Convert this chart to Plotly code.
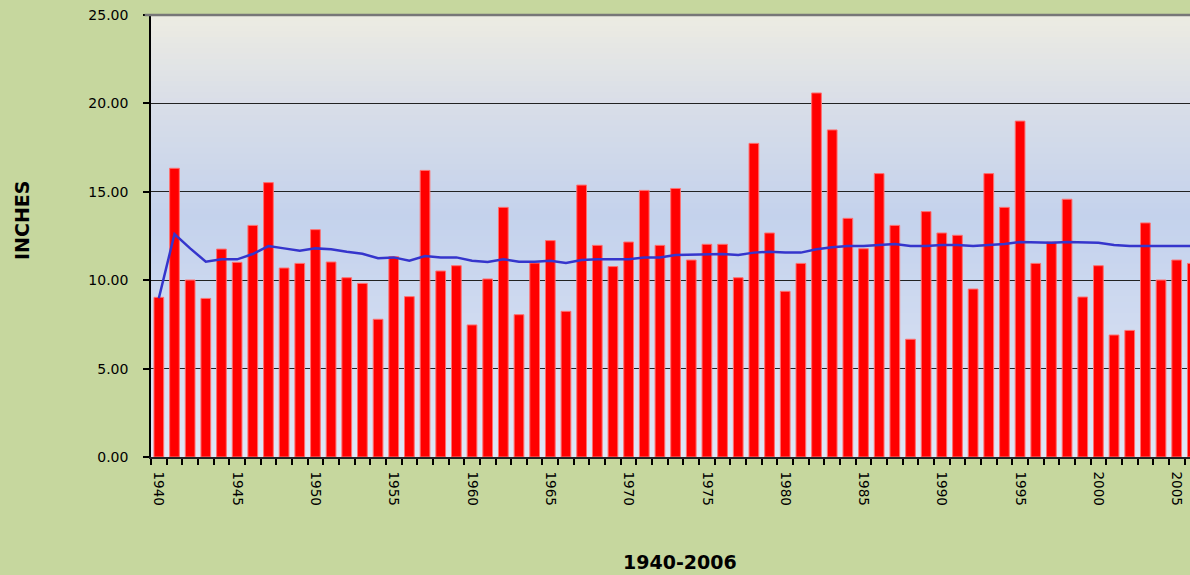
import plotly.graph_objects as go

years = list(range(1940, 2007))
rainfall = [9.03, 16.33, 10.01, 8.97, 11.76, 11.01, 13.10, 15.52, 10.69, 10.95,
            12.86, 11.03, 10.14, 9.82, 7.79, 11.33, 9.07, 16.21, 10.52, 10.82,
            7.47, 10.07, 14.12, 8.05, 10.97, 12.24, 8.24, 15.38, 11.97, 10.77,
            12.16, 15.08, 11.97, 15.19, 11.14, 12.03, 12.03, 10.14, 17.74, 12.67,
            9.37, 10.95, 20.59, 18.50, 13.50, 11.78, 16.03, 13.10, 6.66, 13.88,
            12.67, 12.54, 9.50, 16.03, 14.12, 19.00, 10.95, 12.16, 14.58, 9.05,
            10.82, 6.90, 7.16, 13.24, 10.01, 11.14, 10.95]
average = [8.98, 12.61, 11.80, 11.05, 11.18, 11.18, 11.48, 11.93, 11.80, 11.67,
           11.80, 11.75, 11.61, 11.50, 11.24, 11.29, 11.10, 11.37, 11.29, 11.29,
           11.10, 11.03, 11.18, 11.05, 11.05, 11.10, 10.97, 11.14, 11.18, 11.18,
           11.18, 11.29, 11.29, 11.43, 11.46, 11.46, 11.48, 11.43, 11.56, 11.61,
           11.56, 11.56, 11.75, 11.86, 11.93, 11.93, 11.99, 12.05, 11.93, 11.93,
           11.99, 11.99, 11.93, 11.99, 12.05, 12.16, 12.12, 12.12, 12.16, 12.12,
           12.12, 11.99, 11.93, 11.93, 11.93, 11.93, 11.93]
label_years = list(range(1940, 2006, 5))
y_ticks = [0, 5, 10, 15, 20, 25]

FONT = "DejaVu Sans, Verdana, sans-serif"

fig = go.Figure()
fig.add_trace(go.Bar(x=years, y=rainfall, marker=dict(color="#FF0000",
                     line=dict(color="#FF7070", width=1)), width=0.62,
                     showlegend=False))
fig.add_trace(go.Scatter(x=years, y=average, mode="lines",
                         line=dict(color="#3535CC", width=2.5), showlegend=False))

# vertical gradient background
def hex2rgb(h):
    h = h.lstrip("#")
    return [int(h[i:i + 2], 16) for i in (0, 2, 4)]

stops = [(0.0, "#DFE6F5"), (0.45, "#C8D5EE"), (0.55, "#C4D2EC"), (0.8, "#D9DEE8"), (1.0, "#EDECE2")]
n = 80
shapes = []
for i in range(n):
    t = (i + 0.5) / n
    for j in range(len(stops) - 1):
        if stops[j][0] <= t <= stops[j + 1][0]:
            a, ca = stops[j]
            b, cb = stops[j + 1]
            f = (t - a) / (b - a)
            c1, c2 = hex2rgb(ca), hex2rgb(cb)
            col = "rgb(%d,%d,%d)" % tuple(round(c1[k] + (c2[k] - c1[k]) * f) for k in range(3))
            break
    shapes.append(dict(type="rect", xref="paper", yref="paper", x0=0, x1=1,
                       y0=i / n, y1=(i + 1) / n + 0.002, fillcolor=col,
                       line=dict(width=0), layer="below"))
shapes.append(dict(type="line", xref="paper", yref="paper", x0=-0.006, x1=1, y0=1, y1=1,
                   line=dict(color="#777777", width=2.5)))

fig.update_layout(
    width=1190, height=575,
    margin=dict(l=151, r=0, t=15, b=118, autoexpand=False),
    paper_bgcolor="#C6D79E",
    plot_bgcolor="rgba(0,0,0,0)",
    shapes=shapes,
    bargap=0.38,
    font=dict(family=FONT, color="#000000"),
    xaxis=dict(range=[1939.5, 2005.85], tickmode="array", tickvals=label_years,
               ticktext=[str(y) for y in label_years], tickangle=90,
               ticks="", tickfont=dict(size=13.5), showgrid=False,
               ticklabelstandoff=10,
               showline=True, linecolor="#222222", linewidth=1.5,
               minor=dict(tick0=1939.5, dtick=1, ticks="outside", ticklen=6,
                          tickcolor="#000000", tickwidth=1.5, showgrid=False),
               zeroline=False),
    yaxis=dict(range=[0, 25], tickmode="array", tickvals=y_ticks,
               ticktext=["%.2f" % v for v in y_ticks], tickfont=dict(size=14),
               ticks="outside", ticklen=6, tickcolor="#000000", tickwidth=1.5,
               ticklabelstandoff=12,
               showgrid=True, gridcolor="#222222", gridwidth=1.2,
               showline=True, linecolor="#000000", linewidth=1.5,
               zeroline=False),
    annotations=[
        dict(text="<b>1940-2006</b>", xref="paper", yref="paper",
             x=(680 - 151) / 1039, y=(457 - 562) / 442, xanchor="center", yanchor="middle",
             showarrow=False, font=dict(size=19, family=FONT)),
        dict(text="<b>INCHES</b>", xref="paper", yref="paper", textangle=-90,
             x=(22 - 151) / 1039, y=(457 - 221) / 442, xanchor="center", yanchor="middle",
             showarrow=False, font=dict(size=19, family=FONT)),
    ],
)
fig.write_html("out.html", config={"displayModeBar": False},
               post_script="document.body.style.margin='0';document.body.style.overflow='hidden';")
